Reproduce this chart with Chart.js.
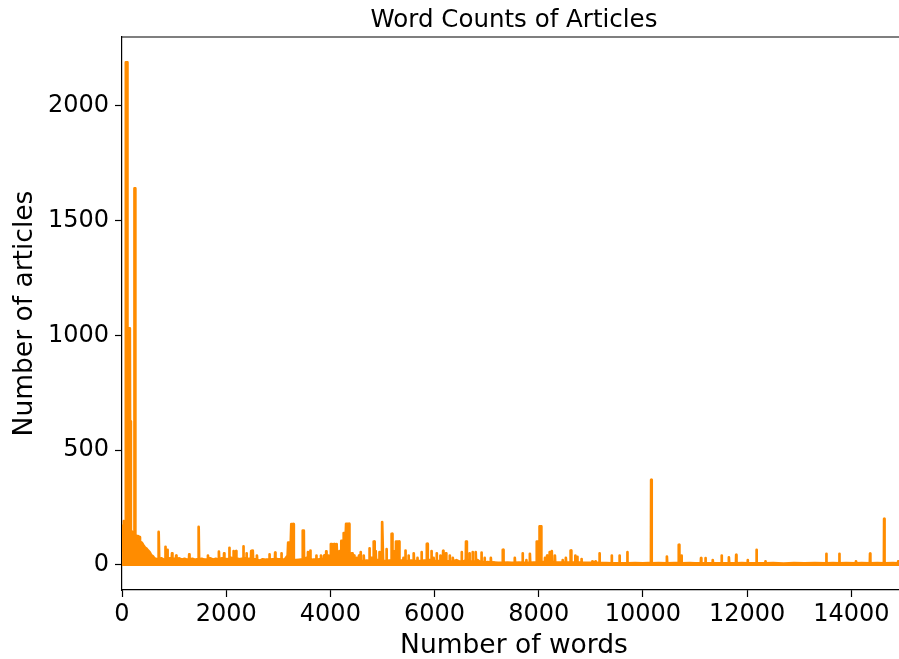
<!DOCTYPE html>
<html>
<head>
<meta charset="utf-8">
<script src="https://cdn.jsdelivr.net/npm/chart.js@4.4.0/dist/chart.umd.min.js"></script>
<style>
  html, body { margin: 0; padding: 0; background: #fff; overflow: hidden; }
  #wrap { width: 906px; height: 659px; }
</style>
</head>
<body>
<div id="wrap"><canvas id="chart"></canvas></div>
<script>
'use strict';

// Values: x = words per article, y = number of articles.
// Between the spikes the original line is so dense it reads as a solid band,
// so the points below follow the top of that band and the area under it is filled.
const wordCounts = [
  // first 600 words, the tall spikes
  1, 10, 20, 35, 45, 60, 72, 76, 100, 104,
  150, 154, 168, 172, 200, 236, 240, 252, 256, 280,
  310, 330, 345, 380, 410, 440, 470, 500, 530, 560,
  590,
  // 600 - 4500
  620, 660, 693, 697, 710, 714, 760, 800, 826, 830,
  836, 840, 866, 870, 876, 880, 920, 956, 960, 966,
  970, 1000, 1036, 1040, 1046, 1100, 1150, 1200, 1250, 1286,
  1290, 1296, 1350, 1400, 1440, 1463, 1467, 1476, 1480, 1530,
  1580, 1646, 1650, 1656, 1700, 1750, 1800, 1856, 1860, 1866,
  1920, 1956, 1960, 1966, 2020, 2056, 2060, 2066, 2100, 2136,
  2140, 2146, 2186, 2190, 2196, 2250, 2300, 2326, 2330, 2336,
  2386, 2390, 2396, 2440, 2476, 2480, 2486, 2506, 2510, 2516,
  2560, 2586, 2590, 2596, 2650, 2700, 2760, 2826, 2830, 2836,
  2900, 2936, 2940, 2946, 3000, 3056, 3060, 3066, 3120, 3180,
  3186, 3190, 3240, 3250, 3292, 3298, 3340, 3400, 3466, 3470,
  3490, 3494, 3540, 3566, 3570, 3576, 3611, 3615, 3621, 3680,
  3726, 3730, 3736, 3790, 3816, 3820, 3826, 3876, 3880, 3886,
  3916, 3920, 3926, 3956, 3960, 3966, 4004, 4010, 4030, 4036,
  4064, 4070, 4080, 4086, 4110, 4115, 4125, 4130, 4166, 4170,
  4180, 4190, 4206, 4210, 4250, 4256, 4296, 4302, 4360, 4366,
  4406, 4410, 4420, 4426, 4446, 4450, 4456, 4462, 4490,
  // 4500 - 6900
  4506, 4510, 4530, 4546, 4550, 4556, 4576, 4580, 4586, 4620,
  4636, 4640, 4646, 4700, 4746, 4750, 4756, 4800, 4828, 4832,
  4846, 4850, 4866, 4870, 4876, 4936, 4940, 4946, 4990, 4994,
  5008, 5012, 5073, 5077, 5083, 5130, 5172, 5176, 5188, 5192,
  5206, 5210, 5216, 5256, 5260, 5322, 5326, 5370, 5396, 5400,
  5406, 5436, 5440, 5446, 5496, 5500, 5506, 5550, 5596, 5600,
  5606, 5666, 5670, 5676, 5746, 5750, 5756, 5800, 5848, 5852,
  5866, 5870, 5936, 5940, 5946, 5976, 5980, 5986, 6036, 6040,
  6046, 6106, 6110, 6116, 6161, 6165, 6171, 6216, 6220, 6226,
  6286, 6290, 6296, 6346, 6350, 6356, 6420, 6470, 6516, 6520,
  6526, 6570, 6600, 6604, 6618, 6622, 6666, 6670, 6676, 6726,
  6730, 6736, 6786, 6790, 6796, 6830, 6870,
  // 6900 - 9200
  6896, 6900, 6906, 6956, 6960, 6966, 7020, 7076, 7080, 7086,
  7150, 7220, 7306, 7310, 7320, 7324, 7400, 7480, 7536, 7540,
  7546, 7620, 7686, 7690, 7696, 7756, 7760, 7766, 7826, 7830,
  7836, 7900, 7956, 7962, 8010, 8016, 8044, 8050, 8116, 8120,
  8126, 8156, 8160, 8166, 8206, 8210, 8230, 8246, 8250, 8256,
  8306, 8310, 8316, 8390, 8456, 8460, 8466, 8516, 8520, 8526,
  8608, 8612, 8622, 8626, 8696, 8700, 8706, 8736, 8740, 8746,
  8816, 8820, 8826, 8900, 9000, 9026, 9030, 9086, 9090, 9096,
  9158, 9162, 9170, 9174,
  // long tail
  9300, 9396, 9400, 9406, 9546, 9550, 9556, 9696, 9700, 9706,
  9850, 10000, 10100, 10154, 10158, 10166, 10170, 10300, 10456, 10460,
  10466, 10600, 10684, 10688, 10696, 10700, 10736, 10740, 10746, 10900,
  11000, 11111, 11115, 11121, 11196, 11200, 11206, 11336, 11340, 11346,
  11506, 11510, 11516, 11646, 11650, 11656, 11786, 11790, 11796, 11900,
  12006, 12010, 12016, 12176, 12180, 12186, 12346, 12350, 12356, 12500,
  12700, 12900, 13100, 13300, 13516, 13520, 13526, 13650, 13766, 13770,
  13776, 13900, 14086, 14090, 14096, 14200, 14356, 14360, 14366, 14500,
  14626, 14630, 14636, 14640, 14800, 14896, 14900, 14906, 15050
];

const articleCounts = [
  60, 170, 150, 190, 160, 180, 200, 2190, 2190, 1030,
  1030, 625, 625, 150, 140, 140, 1640, 1640, 130, 125,
  125, 120, 100, 96, 85, 75, 70, 62, 55, 42,
  38,
  28, 24, 26, 143, 143, 25, 28, 22, 22, 78,
  78, 30, 30, 65, 65, 25, 28, 28, 50, 50,
  24, 26, 24, 40, 24, 28, 22, 26, 22, 22,
  45, 22, 26, 22, 24, 24, 165, 165, 24, 26,
  22, 24, 40, 24, 28, 22, 26, 22, 57, 24,
  28, 26, 50, 26, 24, 26, 74, 28, 30, 26,
  60, 30, 30, 60, 28, 24, 26, 26, 80, 28,
  28, 50, 24, 26, 26, 60, 30, 30, 62, 24,
  24, 24, 40, 20, 18, 24, 22, 22, 45, 22,
  24, 24, 53, 26, 24, 24, 50, 22, 22, 40,
  40, 97, 97, 177, 177, 22, 20, 22, 24, 149,
  149, 24, 30, 30, 55, 30, 30, 62, 20, 22,
  22, 40, 22, 24, 24, 40, 24, 24, 40, 24,
  24, 58, 24, 24, 40, 24, 30, 90, 90, 40,
  40, 90, 90, 40, 40, 90, 90, 30, 30, 60,
  60, 40, 40, 104, 104, 138, 138, 178, 178, 40,
  40, 50, 50, 30, 30, 40, 40, 20, 20,
  20, 30, 18, 18, 40, 18, 18, 55, 18, 16,
  16, 40, 16, 18, 16, 72, 30, 30, 30, 101,
  101, 30, 30, 60, 20, 20, 55, 18, 18, 186,
  186, 16, 16, 68, 16, 18, 18, 135, 135, 30,
  30, 60, 30, 30, 101, 101, 16, 18, 18, 30,
  16, 16, 62, 16, 16, 40, 16, 18, 16, 50,
  16, 16, 30, 16, 16, 55, 16, 18, 18, 91,
  91, 20, 20, 60, 18, 18, 30, 16, 16, 50,
  16, 16, 40, 16, 16, 61, 16, 16, 50, 16,
  14, 40, 14, 14, 30, 14, 20, 14, 14, 55,
  14, 16, 20, 101, 101, 20, 20, 50, 14, 14,
  55, 14, 14, 55, 14, 20, 12,
  12, 53, 12, 12, 30, 10, 12, 10, 30, 9,
  10, 8, 8, 65, 65, 8, 9, 8, 8, 30,
  8, 9, 8, 50, 8, 8, 20, 8, 8, 48,
  8, 9, 10, 101, 101, 167, 167, 12, 12, 30,
  12, 12, 40, 12, 12, 55, 30, 30, 60, 12,
  12, 40, 10, 9, 9, 20, 9, 9, 30, 9,
  9, 62, 62, 9, 9, 40, 12, 12, 35, 9,
  9, 25, 8, 8, 8, 8, 15, 8, 15, 8,
  8, 50, 50, 8,
  7, 6, 40, 6, 6, 40, 6, 6, 55, 6,
  7, 6, 7, 6, 370, 370, 6, 7, 6, 36,
  6, 7, 7, 87, 87, 20, 20, 40, 6, 7,
  6, 6, 29, 6, 6, 29, 6, 6, 20, 6,
  6, 40, 6, 6, 32, 6, 6, 43, 6, 7,
  6, 20, 6, 6, 65, 6, 6, 15, 6, 7,
  5, 7, 6, 7, 6, 48, 6, 7, 6, 48,
  6, 7, 6, 15, 6, 7, 6, 49, 6, 7,
  6, 200, 200, 6, 7, 6, 15, 6, 7
];

const xTickValues = [0, 2000, 4000, 6000, 8000, 10000, 12000, 14000];
const yTickValues = [0, 500, 1000, 1500, 2000];
const chartTitle = 'Word Counts of Articles';

let canvasElem = document.getElementById('chart');

let points = [];
for (let i = 0; i < wordCounts.length; i++) {
  points.push({ x: wordCounts[i], y: articleCounts[i] });
}

// top spine and the title centred over the axes, like matplotlib
const frameAndTitle = {
  id: 'frameAndTitle',
  afterDraw(chart) {
    const { ctx, chartArea } = chart;
    ctx.save();
    ctx.strokeStyle = '#000';
    ctx.lineWidth = 1.2;
    ctx.beginPath();
    ctx.moveTo(chartArea.left, chartArea.top);
    ctx.lineTo(chartArea.right, chartArea.top);
    ctx.stroke();
    ctx.fillStyle = '#000';
    ctx.font = '24.5px "DejaVu Sans"';
    ctx.textAlign = 'center';
    ctx.textBaseline = 'alphabetic';
    ctx.fillText(chartTitle, (chartArea.left + chartArea.right) / 2, 26.5);
    ctx.restore();
  }
};

const tickFont = { family: 'DejaVu Sans', size: 24 };
const labelFont = { family: 'DejaVu Sans', size: 26.5 };

new Chart(canvasElem, {
  type: 'line',
  data: {
    datasets: [{
      label: 'Articles',
      data: points,
      borderColor: '#ff8c00',
      backgroundColor: '#ff8c00',
      borderWidth: 2.7,
      borderJoinStyle: 'round',
      borderCapStyle: 'round',
      pointRadius: 0,
      tension: 0,
      fill: { value: -5 }
    }]
  },
  options: {
    responsive: true,
    maintainAspectRatio: false,
    animation: false,
    layout: { padding: { top: 37, left: 0, right: 0, bottom: 0 } },
    plugins: {
      legend: { display: false },
      tooltip: { enabled: false },
      title: { display: false }
    },
    scales: {
      x: {
        type: 'linear',
        min: 0,
        max: 15050,
        afterBuildTicks: (s) => { s.ticks = xTickValues.map(v => ({ value: v })); },
        afterFit: (s) => { s.height = 69; },
        ticks: { color: '#000', font: tickFont, padding: 3, maxRotation: 0, autoSkip: false, callback: (v) => String(v) },
        grid: { display: true, drawOnChartArea: false, drawTicks: true, tickLength: 7, tickColor: '#000', tickWidth: 1.2 },
        border: { display: true, color: '#000', width: 1.2 },
        title: { display: true, text: 'Number of words', color: '#000', font: labelFont, padding: { top: 0, bottom: -3 } }
      },
      y: {
        min: -110,
        max: 2300,
        afterBuildTicks: (s) => { s.ticks = yTickValues.map(v => ({ value: v })); },
        afterFit: (s) => { s.width = 122; },
        ticks: { color: '#000', font: tickFont, padding: 6, callback: (v) => String(v) },
        grid: { display: true, drawOnChartArea: false, drawTicks: true, tickLength: 7, tickColor: '#000', tickWidth: 1.2 },
        border: { display: true, color: '#000', width: 1.2 },
        title: { display: true, text: 'Number of articles', color: '#000', font: labelFont, padding: { top: 9, bottom: 0 } }
      }
    }
  },
  plugins: [frameAndTitle]
});
</script>
</body>
</html>
